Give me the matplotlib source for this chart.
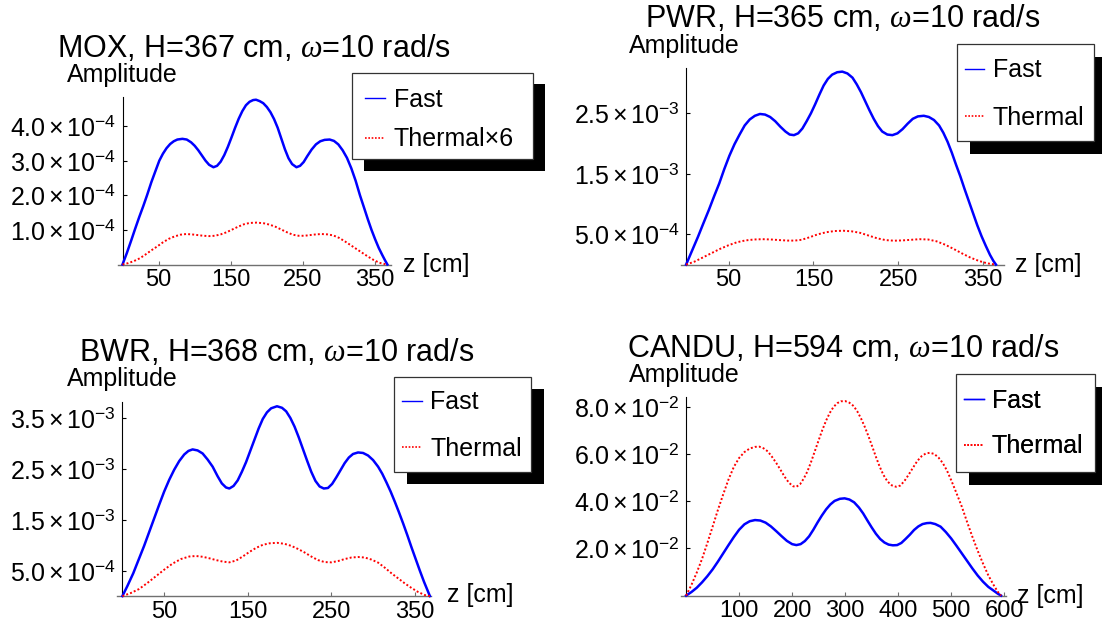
import numpy as np
import matplotlib
matplotlib.use("Agg")
import matplotlib.pyplot as plt
from matplotlib.lines import Line2D
from matplotlib.patches import Rectangle

plt.rcParams["font.family"] = ["Liberation Sans", "DejaVu Sans"]
plt.rcParams["mathtext.fontset"] = "custom"
plt.rcParams["mathtext.rm"] = "Liberation Sans"
plt.rcParams["mathtext.it"] = "Liberation Serif:italic"
plt.rcParams["mathtext.bf"] = "Liberation Sans:bold"

W, H = 1102, 625

# ---- values ----
# MOX (amplitude in 1e-4)
mox_z_fast = [0, 6, 12, 17, 23, 29, 34, 40, 46, 51, 56, 61, 66, 71, 76, 83, 89, 95, 100,
              105, 110, 115, 120, 126, 131, 136, 141, 146, 151, 156, 161, 166, 171, 176,
              181, 185, 190, 195, 200, 205, 210, 215, 220, 225, 230, 235, 241, 246, 251,
              256, 262, 268, 274, 280, 287, 293, 299, 305, 311, 317, 323, 329, 335, 340,
              345, 350, 355, 360, 364, 367]
mox_fast = [0, 0.33, 0.69, 1.00, 1.36, 1.70, 2.00, 2.38, 2.72, 3.00, 3.20, 3.36, 3.48,
            3.56, 3.61, 3.63, 3.61, 3.53, 3.43, 3.30, 3.15, 3.00, 2.88, 2.81, 2.85, 2.97,
            3.16, 3.40, 3.67, 3.95, 4.21, 4.43, 4.60, 4.70, 4.75, 4.76, 4.72, 4.66, 4.55,
            4.40, 4.20, 3.95, 3.64, 3.33, 3.07, 2.90, 2.81, 2.85, 2.96, 3.13, 3.32, 3.47,
            3.56, 3.60, 3.61, 3.57, 3.47, 3.30, 3.08, 2.78, 2.42, 2.00, 1.62, 1.30, 1.00,
            0.73, 0.48, 0.27, 0.11, 0]
mox_z_th = [0, 8, 16, 24, 32, 40, 48, 56, 64, 72, 80, 88, 96, 104, 112, 120, 128, 136,
            144, 152, 160, 168, 176, 186, 196, 204, 212, 220, 228, 236, 244, 252, 260,
            268, 276, 284, 292, 300, 308, 316, 324, 332, 340, 348, 356, 362, 367]
mox_th = [0, 0.04, 0.10, 0.18, 0.29, 0.41, 0.52, 0.64, 0.74, 0.81, 0.86, 0.88, 0.87,
          0.85, 0.83, 0.82, 0.83, 0.87, 0.93, 1.01, 1.09, 1.16, 1.20, 1.21, 1.19, 1.15,
          1.09, 1.01, 0.93, 0.86, 0.83, 0.83, 0.85, 0.87, 0.88, 0.87, 0.84, 0.77, 0.67,
          0.56, 0.45, 0.34, 0.23, 0.13, 0.05, 0.02, 0]

# PWR (amplitude in 1e-3)
pwr_z_fast = [0, 7, 14, 20, 27, 33, 39, 45, 51, 57, 63, 69, 75, 81, 87, 93, 99, 105, 111,
              117, 122, 127, 132, 137, 142, 147, 152, 157, 162, 167, 172, 178, 184, 190,
              196, 201, 206, 211, 216, 221, 226, 231, 237, 243, 249, 255, 261, 267, 273,
              280, 286, 292, 298, 303, 308, 313, 318, 323, 328, 333, 338, 343, 348, 353,
              358, 362, 365]
pwr_fast = [0, 0.23, 0.46, 0.67, 0.91, 1.13, 1.34, 1.58, 1.80, 1.99, 2.15, 2.30, 2.40,
            2.46, 2.49, 2.48, 2.44, 2.37, 2.28, 2.20, 2.15, 2.14, 2.17, 2.25, 2.37, 2.50,
            2.65, 2.81, 2.96, 3.07, 3.14, 3.18, 3.19, 3.16, 3.09, 2.98, 2.85, 2.70, 2.55,
            2.41, 2.29, 2.20, 2.15, 2.14, 2.17, 2.24, 2.33, 2.41, 2.45, 2.46, 2.44, 2.39,
            2.30, 2.18, 2.03, 1.85, 1.65, 1.46, 1.25, 1.05, 0.85, 0.65, 0.47, 0.31, 0.16,
            0.06, 0]
pwr_z_th = [0, 10, 20, 30, 40, 50, 60, 70, 80, 90, 100, 110, 120, 128, 136, 145, 155, 165,
            175, 185, 195, 205, 215, 225, 235, 245, 255, 265, 275, 285, 295, 305, 315,
            325, 335, 345, 355, 365]
pwr_th = [0, 0.05, 0.12, 0.19, 0.26, 0.32, 0.37, 0.40, 0.415, 0.42, 0.415, 0.405, 0.397,
          0.397, 0.41, 0.45, 0.50, 0.535, 0.555, 0.56, 0.55, 0.525, 0.48, 0.435, 0.405,
          0.395, 0.40, 0.41, 0.42, 0.415, 0.385, 0.33, 0.26, 0.185, 0.115, 0.06, 0.02, 0]

# BWR (amplitude in 1e-3)
bwr_z_fast = [0, 6, 13, 19, 26, 32, 38, 44, 50, 56, 62, 68, 74, 79, 84, 90, 96, 102, 108,
              114, 119, 124, 128, 133, 138, 143, 148, 153, 158, 163, 168, 173, 178, 185,
              191, 196, 201, 206, 211, 216, 221, 226, 231, 236, 241, 246, 251, 256, 261,
              266, 271, 276, 282, 288, 294, 300, 306, 311, 316, 321, 326, 331, 336, 341,
              346, 351, 356, 361, 365, 368]
bwr_fast = [0, 0.20, 0.45, 0.70, 0.99, 1.26, 1.53, 1.80, 2.06, 2.29, 2.49, 2.66, 2.79,
            2.86, 2.89, 2.87, 2.81, 2.69, 2.55, 2.36, 2.22, 2.14, 2.12, 2.17, 2.28, 2.45,
            2.64, 2.86, 3.08, 3.30, 3.49, 3.62, 3.70, 3.74, 3.71, 3.64, 3.51, 3.34, 3.13,
            2.90, 2.67, 2.45, 2.27, 2.16, 2.12, 2.13, 2.21, 2.34, 2.48, 2.62, 2.73, 2.80,
            2.83, 2.82, 2.77, 2.68, 2.55, 2.41, 2.24, 2.06, 1.86, 1.65, 1.43, 1.20, 0.96,
            0.73, 0.50, 0.28, 0.12, 0]
bwr_z_th = [0, 10, 20, 30, 40, 50, 60, 70, 80, 88, 96, 104, 112, 120, 128, 136, 144, 152,
            160, 168, 176, 185, 194, 202, 210, 218, 226, 234, 242, 250, 258, 266, 274,
            282, 290, 298, 306, 314, 322, 330, 338, 346, 354, 362, 368]
bwr_th = [0, 0.06, 0.14, 0.26, 0.39, 0.52, 0.64, 0.73, 0.78, 0.79, 0.775, 0.745, 0.71,
          0.68, 0.665, 0.70, 0.78, 0.87, 0.95, 1.01, 1.04, 1.05, 1.03, 0.99, 0.93, 0.86,
          0.78, 0.71, 0.67, 0.665, 0.69, 0.73, 0.76, 0.77, 0.76, 0.72, 0.66, 0.56, 0.45,
          0.35, 0.25, 0.16, 0.08, 0.02, 0]

# CANDU (amplitude in 1e-2)
candu_z_fast = [0, 10, 20, 30, 40, 50, 60, 70, 80, 90, 100, 110, 120, 130, 140, 150, 160,
                170, 180, 190, 200, 208, 216, 224, 232, 240, 248, 256, 264, 272, 280, 290,
                299, 308, 317, 326, 334, 342, 350, 358, 366, 374, 382, 390, 398, 406, 414,
                422, 430, 438, 446, 454, 461, 470, 480, 490, 500, 510, 520, 530, 540, 550,
                560, 570, 580, 588, 594]
candu_fast = [0, 0.15, 0.33, 0.56, 0.82, 1.11, 1.44, 1.79, 2.14, 2.48, 2.79, 3.02, 3.15,
              3.20, 3.18, 3.09, 2.93, 2.73, 2.52, 2.32, 2.18, 2.14, 2.18, 2.31, 2.51, 2.79,
              3.10, 3.39, 3.65, 3.86, 4.01, 4.10, 4.12, 4.07, 3.95, 3.73, 3.48, 3.18, 2.89,
              2.62, 2.40, 2.25, 2.16, 2.13, 2.14, 2.23, 2.40, 2.58, 2.78, 2.93, 3.03, 3.07,
              3.08, 3.03, 2.92, 2.69, 2.42, 2.11, 1.79, 1.47, 1.15, 0.85, 0.59, 0.37, 0.21,
              0.08, 0]
candu_z_th = [0, 10, 20, 30, 40, 50, 60, 70, 80, 90, 100, 110, 120, 130, 138, 146, 154,
              162, 170, 178, 186, 194, 202, 208, 215, 222, 229, 236, 243, 250, 257, 264,
              271, 278, 285, 292, 300, 308, 316, 323, 330, 337, 344, 351, 358, 365, 372,
              380, 388, 396, 404, 412, 420, 428, 436, 444, 452, 460, 468, 476, 484, 492,
              500, 510, 520, 530, 540, 550, 560, 570, 580, 588, 594]
candu_th = [0, 0.45, 0.97, 1.55, 2.22, 2.92, 3.63, 4.29, 4.92, 5.45, 5.83, 6.08, 6.23,
            6.30, 6.31, 6.24, 6.11, 5.88, 5.62, 5.33, 5.03, 4.78, 4.63, 4.61, 4.72, 4.96,
            5.27, 5.68, 6.13, 6.58, 7.02, 7.41, 7.74, 7.99, 8.15, 8.23, 8.24, 8.17, 8.03,
            7.80, 7.50, 7.15, 6.75, 6.32, 5.88, 5.47, 5.12, 4.83, 4.67, 4.61, 4.66, 4.86,
            5.13, 5.42, 5.70, 5.90, 6.02, 6.05, 6.00, 5.85, 5.62, 5.30, 4.89, 4.34, 3.77,
            3.12, 2.49, 1.90, 1.36, 0.86, 0.45, 0.16, 0]

titles = [r"MOX, H=367 cm, $\omega$=10 rad/s", r"PWR, H=365 cm, $\omega$=10 rad/s",
          r"BWR, H=368 cm, $\omega$=10 rad/s", r"CANDU, H=594 cm, $\omega$=10 rad/s"]
scales = [1e-4, 1e-3, 1e-3, 1e-2]
xticks_all = [[50, 150, 250, 350], [50, 150, 250, 350], [50, 150, 250, 350],
              [100, 200, 300, 400, 500, 600]]
yticks_all = [[1e-4, 2e-4, 3e-4, 4e-4], [5e-4, 1.5e-3, 2.5e-3],
              [5e-4, 1.5e-3, 2.5e-3, 3.5e-3], [2e-2, 4e-2, 6e-2, 8e-2]]
ytick_labels_all = [
    [r"$1.0\times10^{-4}$", r"$2.0\times10^{-4}$", r"$3.0\times10^{-4}$", r"$4.0\times10^{-4}$"],
    [r"$5.0\times10^{-4}$", r"$1.5\times10^{-3}$", r"$2.5\times10^{-3}$"],
    [r"$5.0\times10^{-4}$", r"$1.5\times10^{-3}$", r"$2.5\times10^{-3}$", r"$3.5\times10^{-3}$"],
    [r"$2.0\times10^{-2}$", r"$4.0\times10^{-2}$", r"$6.0\times10^{-2}$", r"$8.0\times10^{-2}$"],
]
thermal_labels = ["Thermal\u00d76", "Thermal", "Thermal", "Thermal"]
series = [(mox_z_fast, mox_fast, mox_z_th, mox_th),
          (pwr_z_fast, pwr_fast, pwr_z_th, pwr_th),
          (bwr_z_fast, bwr_fast, bwr_z_th, bwr_th),
          (candu_z_fast, candu_fast, candu_z_th, candu_th)]

# ---- layout, in pixels of the 1102x625 picture ----
# x0: z=0, xend: end of x axis, xmax: z at xend, y0: amplitude 0, ytop: end of y axis
layout = [
    dict(x0=122.5, xend=391.0, xmax=372.0, y0=264.5, ytop=97.3, ymax=4.83e-4,
         title=(254.3, 57.3), amp=(66.6, 82.0), zl=(402.7, 272.3),
         box=(352.3, 72.7, 533.3, 159.3), sh=11.5, hx=365.0, rows=(100.0, 139.0),
         hl=0.8, htp=0.36),
    dict(x0=686.1, xend=1004.2, xmax=374.7, y0=264.6, ytop=68.3, ymax=3.245e-3,
         title=(842.3, 27.3), amp=(629.2, 53.3), zl=(1014.8, 271.7),
         box=(956.7, 44.0, 1094.3, 140.7), sh=13.3, hx=965.0, rows=(70.7, 117.3),
         hl=0.77, htp=0.34),
    dict(x0=122.4, xend=431.4, xmax=369.8, y0=596.1, ytop=401.7, ymax=3.83e-3,
         title=(276.2, 360.7), amp=(66.6, 386.0), zl=(447.2, 601.7),
         box=(394.3, 376.7, 531.4, 471.7), sh=12.5, hx=402.3, rows=(402.7, 448.7),
         hl=0.8, htp=0.31),
    dict(x0=686.1, xend=1006.0, xmax=603.4, y0=595.6, ytop=397.3, ymax=8.40e-2,
         title=(843.1, 356.7), amp=(629.2, 381.7), zl=(1017.3, 603.3),
         box=(955.6, 374.0, 1094.7, 471.7), sh=13.0, hx=963.7, rows=(401.0, 446.0),
         hl=0.8, htp=0.32),
]

FAST_COLOR = "#0000ff"
THERM_COLOR = "#ff0000"
LEG_FS = 18
fs_px = LEG_FS * 100 / 72

fig = plt.figure(figsize=(W / 100, H / 100), dpi=100)

# overlay in picture pixels for texts and legend boxes
ov = fig.add_axes([0, 0, 1, 1], zorder=10)
ov.set_xlim(0, W)
ov.set_ylim(H, 0)
ov.axis("off")

for i, p in enumerate(layout):
    zf, vf, zt, vt = series[i]
    sc = scales[i]
    sx = (p["xend"] - p["x0"]) / p["xmax"]
    ext = 5.0
    left_px = p["x0"] - ext
    ax = fig.add_axes([left_px / W, 1 - p["y0"] / H,
                       (p["xend"] - left_px) / W, (p["y0"] - p["ytop"]) / H])
    ax.patch.set_alpha(0)
    ax.set_xlim(-ext / sx, p["xmax"])
    ax.set_ylim(0, p["ymax"])

    ax.plot(zf, np.array(vf) * sc, color=FAST_COLOR, lw=1.8, clip_on=False, zorder=3,
            solid_joinstyle="round")
    ax.plot(zt, np.array(vt) * sc, color=THERM_COLOR, lw=1.4, linestyle=(0, (1, 1.1)),
            clip_on=False, zorder=3)

    for s in ("top", "right"):
        ax.spines[s].set_visible(False)
    ax.spines["left"].set_position(("data", 0))
    ax.spines["left"].set_linewidth(0.8)
    ax.spines["bottom"].set_color("#707070")
    ax.spines["bottom"].set_linewidth(1.0)

    ax.set_xticks(xticks_all[i])
    ax.set_xticklabels([str(t) for t in xticks_all[i]])
    ax.set_yticks(yticks_all[i])
    ax.set_yticklabels(ytick_labels_all[i])
    ax.tick_params(direction="in", length=3, width=0.8)
    ax.tick_params(axis="x", pad=3.5, color="#707070", labelsize=17)
    ax.tick_params(axis="y", pad=4.5, labelsize=18)

    # texts
    ov.text(p["title"][0], p["title"][1], titles[i], ha="center", va="baseline", fontsize=22)
    ov.text(p["amp"][0], p["amp"][1], "Amplitude", ha="left", va="baseline", fontsize=18)
    ov.text(p["zl"][0], p["zl"][1], "z [cm]", ha="left", va="baseline", fontsize=18)

    # legend box with hard shadow
    bl, bt, br, bb = p["box"]
    d = p["sh"]
    ov.add_patch(Rectangle((bl + d, bt + d), br - bl, bb - bt, facecolor="black",
                           edgecolor="none", zorder=1))
    ov.add_patch(Rectangle((bl, bt), br - bl, bb - bt, facecolor="white",
                           edgecolor="#333333", lw=0.9, zorder=2))
    handles = [Line2D([], [], color=FAST_COLOR, lw=1.0),
               Line2D([], [], color=THERM_COLOR, lw=1.2, linestyle=(0, (1, 1)))]
    r1, r2 = p["rows"]
    spacing = r2 - r1
    ls = (spacing - 0.93 * fs_px) / fs_px
    leg = ov.legend(handles, ["Fast", thermal_labels[i]], loc="center left",
                    bbox_to_anchor=(p["hx"], (r1 + r2) / 2), bbox_transform=ov.transData,
                    frameon=False, borderpad=0, borderaxespad=0, fontsize=LEG_FS,
                    labelspacing=ls, handlelength=p["hl"], handletextpad=p["htp"])
    leg.set_zorder(3)
    ov.add_artist(leg)

fig.savefig("out.png", dpi=100)
